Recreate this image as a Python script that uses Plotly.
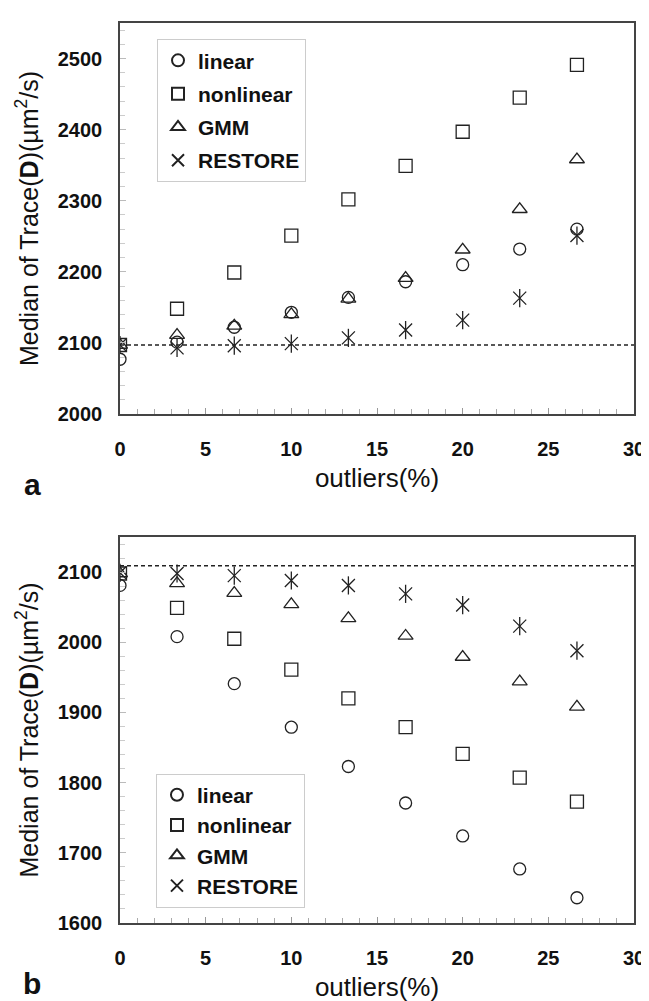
import plotly.graph_objects as go

# ---------------- data ----------------
outliers_pct = [0, 3.33, 6.67, 10, 13.33, 16.67, 20, 23.33, 26.67]

a_linear = [2077, 2101, 2122, 2143, 2164, 2186, 2210, 2232, 2260]
a_nonlinear = [2097, 2148, 2199, 2251, 2302, 2349, 2397, 2445, 2491]
a_gmm = [2097, 2111, 2124, 2140, 2162, 2191, 2231, 2288, 2358]
a_restore = [2097, 2093, 2096, 2099, 2107, 2118, 2132, 2163, 2251]
a_reference = 2097

b_linear = [2081, 2008, 1941, 1879, 1823, 1771, 1724, 1677, 1636]
b_nonlinear = [2098, 2049, 2005, 1961, 1920, 1879, 1841, 1807, 1773]
b_gmm = [2098, 2084, 2070, 2054, 2034, 2009, 1979, 1944, 1908]
b_restore = [2099, 2098, 2095, 2088, 2081, 2069, 2053, 2023, 1988]
b_reference = 2109

series_names = ["linear", "nonlinear", "GMM", "RESTORE"]
x_ticks = [0, 5, 10, 15, 20, 25, 30]
a_y_ticks = [2000, 2100, 2200, 2300, 2400, 2500]
b_y_ticks = [1600, 1700, 1800, 1900, 2000, 2100]

# ---------------- styling ----------------
INK = "#222222"
FONT = "Liberation Sans, Arial, sans-serif"

fig = go.Figure()

symbols = ["circle-open", "square-open", "triangle-up-open", "x-thin-open"]
sizes = [12, 13, 13, 13]


def add_panel(xa, ya, legend, tag, data):
    for name, vals, sym, sz in zip(series_names, data, symbols, sizes):
        grp = tag + name
        fig.add_trace(go.Scatter(
            x=outliers_pct, y=vals, mode="markers", name=name,
            xaxis=xa, yaxis=ya, legend=legend, legendgroup=grp,
            marker=dict(symbol=sym, size=sz, color=INK,
                        line=dict(width=1.3, color=INK)),
        ))
        if name == "RESTORE":
            fig.add_trace(go.Scatter(
                x=outliers_pct, y=vals, mode="markers", name=name,
                xaxis=xa, yaxis=ya, legend=legend, legendgroup=grp,
                showlegend=False,
                marker=dict(symbol="line-ns-open", size=sz, color=INK,
                            line=dict(width=1.3, color=INK)),
            ))


add_panel("x", "y", "legend", "a_", [a_linear, a_nonlinear, a_gmm, a_restore])
add_panel("x2", "y2", "legend2", "b_", [b_linear, b_nonlinear, b_gmm, b_restore])

# dashed reference lines
for xr, yr, val in [("x", "y", a_reference), ("x2", "y2", b_reference)]:
    fig.add_shape(type="line", xref=xr, yref=yr, x0=0, x1=30, y0=val, y1=val,
                  line=dict(color="#222222", width=1.6, dash="4px,3px"))

tickfont = dict(family=FONT, size=20, color="#111111", weight="bold")

xaxis_common = dict(
    range=[0, 30], tickvals=x_ticks, showline=True, linecolor="#444444",
    linewidth=1.5, mirror=True, ticks="inside", ticklen=6, tickcolor="#999999",
    minor=dict(dtick=1, ticks="inside", ticklen=5, tickcolor="#aaaaaa"),
    showgrid=False, zeroline=False, ticklabelstandoff=16,
    tickfont=tickfont,
    title=dict(text="outliers(%)", font=dict(family=FONT, size=26, color="#111111"),
               standoff=10),
)
yaxis_common = dict(
    showline=True, linecolor="#444444", linewidth=1.5, mirror=True,
    ticks="inside", ticklen=6, tickcolor="#bbbbbb",
    minor=dict(dtick=20, ticks="inside", ticklen=5, tickcolor="#cccccc"),
    showgrid=False, zeroline=False, ticklabelstandoff=12,
    tickfont=tickfont,
    title=dict(text="Median of Trace(<b>D</b>)(µm<sup>2</sup>/s)",
               font=dict(family=FONT, size=25, color="#111111"), standoff=12),
)

legend_common = dict(
    bgcolor="white", bordercolor="#cccccc", borderwidth=1,
    font=dict(family=FONT, size=21, color="#111111", weight="bold"),
    xanchor="left", yanchor="top", itemsizing="constant", itemwidth=30,
)

fig.update_layout(
    width=649, height=1001,
    margin=dict(l=112, r=14, t=15, b=79),
    paper_bgcolor="white", plot_bgcolor="white",
    xaxis=dict(domain=[0, 1], anchor="y", **xaxis_common),
    yaxis=dict(domain=[0.5656, 1], anchor="x", range=[2000, 2550],
               tickvals=a_y_ticks, **yaxis_common),
    xaxis2=dict(domain=[0, 1], anchor="y2", **xaxis_common),
    yaxis2=dict(domain=[0, 0.4289], anchor="x2", range=[1600, 2150],
                tickvals=b_y_ticks, **yaxis_common),
    legend=dict(x=0.072, y=0.982, tracegroupgap=3, **legend_common),
    legend2=dict(x=0.070, y=0.166, tracegroupgap=0, **legend_common),
    annotations=[
        dict(text="<b>a</b>", xref="paper", yref="paper", x=-0.171, y=0.5656 - 0.0783,
             xanchor="center", yanchor="middle", showarrow=False,
             font=dict(family=FONT, size=30, color="#111111")),
        dict(text="<b>b</b>", xref="paper", yref="paper", x=-0.171, y=-0.0672,
             xanchor="center", yanchor="middle", showarrow=False,
             font=dict(family=FONT, size=30, color="#111111")),
    ],
)

fig.write_html("out.html")
